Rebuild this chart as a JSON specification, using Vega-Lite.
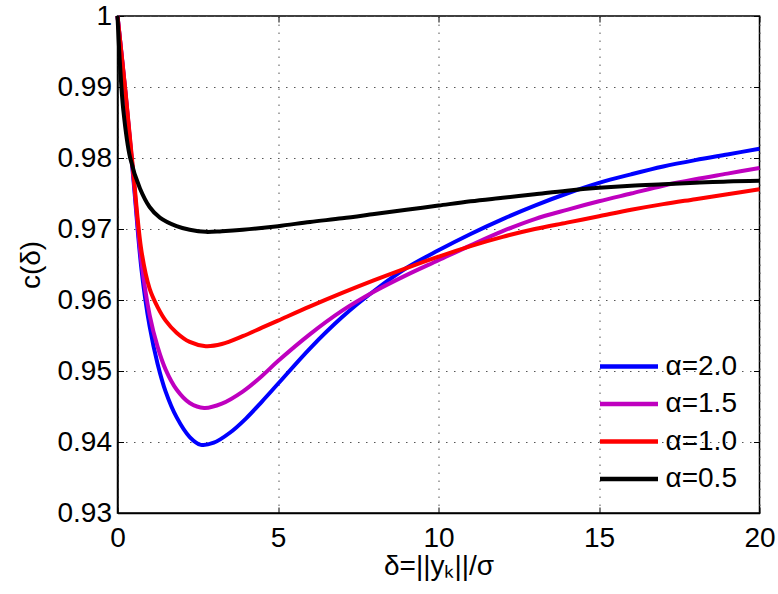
{
  "$schema": "https://vega.github.io/schema/vega-lite/v6.json",
  "width": 642,
  "height": 497,
  "autosize": {"type": "none"},
  "padding": {"left": 117.5, "top": 16, "right": 18.5, "bottom": 81},
  "config": {
    "view": {"stroke": "black", "strokeWidth": 1.5},
    "font": "Liberation Sans",
    "background": "white"
  },
  "data": {
    "values": [
      {"d": 0, "c": 1.0, "a": "α=2.0"},
      {"d": 0.25, "c": 0.989, "a": "α=2.0"},
      {"d": 0.5, "c": 0.9768, "a": "α=2.0"},
      {"d": 0.75, "c": 0.9642, "a": "α=2.0"},
      {"d": 1.0, "c": 0.9563, "a": "α=2.0"},
      {"d": 1.25, "c": 0.9510, "a": "α=2.0"},
      {"d": 1.5, "c": 0.9471, "a": "α=2.0"},
      {"d": 1.84, "c": 0.9435, "a": "α=2.0"},
      {"d": 2.25, "c": 0.9407, "a": "α=2.0"},
      {"d": 2.6, "c": 0.9396, "a": "α=2.0"},
      {"d": 3.0, "c": 0.9399, "a": "α=2.0"},
      {"d": 3.5, "c": 0.9413, "a": "α=2.0"},
      {"d": 4.0, "c": 0.9433, "a": "α=2.0"},
      {"d": 4.5, "c": 0.9457, "a": "α=2.0"},
      {"d": 5, "c": 0.9482, "a": "α=2.0"},
      {"d": 6, "c": 0.9532, "a": "α=2.0"},
      {"d": 7, "c": 0.9576, "a": "α=2.0"},
      {"d": 8, "c": 0.9613, "a": "α=2.0"},
      {"d": 9, "c": 0.9645, "a": "α=2.0"},
      {"d": 10, "c": 0.967, "a": "α=2.0"},
      {"d": 11, "c": 0.9693, "a": "α=2.0"},
      {"d": 12, "c": 0.9714, "a": "α=2.0"},
      {"d": 13, "c": 0.9733, "a": "α=2.0"},
      {"d": 14, "c": 0.975, "a": "α=2.0"},
      {"d": 15, "c": 0.9765, "a": "α=2.0"},
      {"d": 16, "c": 0.9777, "a": "α=2.0"},
      {"d": 17, "c": 0.9788, "a": "α=2.0"},
      {"d": 18, "c": 0.9797, "a": "α=2.0"},
      {"d": 19, "c": 0.9805, "a": "α=2.0"},
      {"d": 20, "c": 0.9813, "a": "α=2.0"},

      {"d": 0, "c": 1.0, "a": "α=1.5"},
      {"d": 0.25, "c": 0.9892, "a": "α=1.5"},
      {"d": 0.5, "c": 0.9772, "a": "α=1.5"},
      {"d": 0.75, "c": 0.9652, "a": "α=1.5"},
      {"d": 1.0, "c": 0.9579, "a": "α=1.5"},
      {"d": 1.25, "c": 0.9534, "a": "α=1.5"},
      {"d": 1.5, "c": 0.9502, "a": "α=1.5"},
      {"d": 1.84, "c": 0.9474, "a": "α=1.5"},
      {"d": 2.25, "c": 0.9455, "a": "α=1.5"},
      {"d": 2.7, "c": 0.9448, "a": "α=1.5"},
      {"d": 3.25, "c": 0.9454, "a": "α=1.5"},
      {"d": 3.9, "c": 0.9471, "a": "α=1.5"},
      {"d": 4.5, "c": 0.9493, "a": "α=1.5"},
      {"d": 5, "c": 0.9514, "a": "α=1.5"},
      {"d": 6, "c": 0.9552, "a": "α=1.5"},
      {"d": 7, "c": 0.9585, "a": "α=1.5"},
      {"d": 8, "c": 0.9612, "a": "α=1.5"},
      {"d": 9, "c": 0.9635, "a": "α=1.5"},
      {"d": 10, "c": 0.9656, "a": "α=1.5"},
      {"d": 11, "c": 0.9677, "a": "α=1.5"},
      {"d": 12, "c": 0.9697, "a": "α=1.5"},
      {"d": 13, "c": 0.9714, "a": "α=1.5"},
      {"d": 14, "c": 0.9727, "a": "α=1.5"},
      {"d": 15, "c": 0.9739, "a": "α=1.5"},
      {"d": 16, "c": 0.975, "a": "α=1.5"},
      {"d": 17, "c": 0.9761, "a": "α=1.5"},
      {"d": 18, "c": 0.977, "a": "α=1.5"},
      {"d": 19, "c": 0.9778, "a": "α=1.5"},
      {"d": 20, "c": 0.9786, "a": "α=1.5"},

      {"d": 0, "c": 1.0, "a": "α=1.0"},
      {"d": 0.25, "c": 0.9893, "a": "α=1.0"},
      {"d": 0.5, "c": 0.9776, "a": "α=1.0"},
      {"d": 0.75, "c": 0.9668, "a": "α=1.0"},
      {"d": 1.0, "c": 0.9616, "a": "α=1.0"},
      {"d": 1.25, "c": 0.9590, "a": "α=1.0"},
      {"d": 1.5, "c": 0.9571, "a": "α=1.0"},
      {"d": 1.84, "c": 0.9554, "a": "α=1.0"},
      {"d": 2.25, "c": 0.9541, "a": "α=1.0"},
      {"d": 2.75, "c": 0.9535, "a": "α=1.0"},
      {"d": 3.25, "c": 0.9538, "a": "α=1.0"},
      {"d": 3.9, "c": 0.9549, "a": "α=1.0"},
      {"d": 4.5, "c": 0.9561, "a": "α=1.0"},
      {"d": 5, "c": 0.9571, "a": "α=1.0"},
      {"d": 6, "c": 0.9591, "a": "α=1.0"},
      {"d": 7, "c": 0.961, "a": "α=1.0"},
      {"d": 8, "c": 0.9628, "a": "α=1.0"},
      {"d": 9, "c": 0.9645, "a": "α=1.0"},
      {"d": 10, "c": 0.9661, "a": "α=1.0"},
      {"d": 11, "c": 0.9676, "a": "α=1.0"},
      {"d": 12, "c": 0.9689, "a": "α=1.0"},
      {"d": 13, "c": 0.97, "a": "α=1.0"},
      {"d": 14, "c": 0.9709, "a": "α=1.0"},
      {"d": 15, "c": 0.9718, "a": "α=1.0"},
      {"d": 16, "c": 0.9727, "a": "α=1.0"},
      {"d": 17, "c": 0.9735, "a": "α=1.0"},
      {"d": 18, "c": 0.9742, "a": "α=1.0"},
      {"d": 19, "c": 0.9749, "a": "α=1.0"},
      {"d": 20, "c": 0.9756, "a": "α=1.0"},

      {"d": 0, "c": 1.0, "a": "α=0.5"},
      {"d": 0.08, "c": 0.993, "a": "α=0.5"},
      {"d": 0.18, "c": 0.9868, "a": "α=0.5"},
      {"d": 0.39, "c": 0.9801, "a": "α=0.5"},
      {"d": 0.7, "c": 0.9757, "a": "α=0.5"},
      {"d": 1.0, "c": 0.9731, "a": "α=0.5"},
      {"d": 1.32, "c": 0.9716, "a": "α=0.5"},
      {"d": 1.84, "c": 0.9704, "a": "α=0.5"},
      {"d": 2.25, "c": 0.9699, "a": "α=0.5"},
      {"d": 2.75, "c": 0.9696, "a": "α=0.5"},
      {"d": 3.25, "c": 0.9697, "a": "α=0.5"},
      {"d": 3.9, "c": 0.9699, "a": "α=0.5"},
      {"d": 5, "c": 0.9704, "a": "α=0.5"},
      {"d": 6, "c": 0.971, "a": "α=0.5"},
      {"d": 7, "c": 0.9715, "a": "α=0.5"},
      {"d": 8, "c": 0.9721, "a": "α=0.5"},
      {"d": 9, "c": 0.9727, "a": "α=0.5"},
      {"d": 10, "c": 0.9733, "a": "α=0.5"},
      {"d": 11, "c": 0.9739, "a": "α=0.5"},
      {"d": 12, "c": 0.9744, "a": "α=0.5"},
      {"d": 13, "c": 0.9749, "a": "α=0.5"},
      {"d": 14, "c": 0.9754, "a": "α=0.5"},
      {"d": 15, "c": 0.9758, "a": "α=0.5"},
      {"d": 16, "c": 0.9761, "a": "α=0.5"},
      {"d": 17, "c": 0.9763, "a": "α=0.5"},
      {"d": 18, "c": 0.9765, "a": "α=0.5"},
      {"d": 19, "c": 0.9767, "a": "α=0.5"},
      {"d": 20, "c": 0.9768, "a": "α=0.5"}
    ]
  },
  "layer": [
    {
      "mark": {"type": "line", "interpolate": "catmull-rom", "strokeWidth": 4},
      "encoding": {
        "x": {
          "field": "d",
          "type": "quantitative",
          "scale": {"domain": [0, 20], "nice": false},
          "axis": {
            "orient": "bottom",
            "values": [0, 5, 10, 15, 20],
            "tickSize": -6,
            "tickColor": "black",
            "domainColor": "black",
            "domainWidth": 1.5,
            "labelFontSize": 28,
            "labelColor": "black",
            "labelPadding": 17,
            "labelFlush": false,
            "grid": true,
            "gridDash": [1.5, 6.5],
            "gridColor": "#555555",
            "gridWidth": 1,
            "title": "δ=||yₖ||/σ",
            "titleFontSize": 28,
            "titleFontWeight": "normal",
            "titleColor": "black",
            "titlePadding": 0
          }
        },
        "y": {
          "field": "c",
          "type": "quantitative",
          "scale": {"domain": [0.93, 1.0], "nice": false, "zero": false},
          "axis": {
            "orient": "left",
            "values": [0.93, 0.94, 0.95, 0.96, 0.97, 0.98, 0.99, 1.0],
            "labelExpr": "datum.value >= 0.9999 ? '1' : format(datum.value, '.2f')",
            "tickSize": -6,
            "tickColor": "black",
            "domainColor": "black",
            "domainWidth": 1.5,
            "labelFontSize": 28,
            "labelColor": "black",
            "labelPadding": 12,
            "labelFlush": false,
            "grid": true,
            "gridDash": [1.5, 6.5],
            "gridColor": "#555555",
            "gridWidth": 1,
            "title": "c(δ)",
            "titleFontSize": 28,
            "titleFontWeight": "normal",
            "titleColor": "black",
            "titlePadding": 12
          }
        },
        "color": {
          "field": "a",
          "type": "nominal",
          "scale": {
            "domain": ["α=2.0", "α=1.5", "α=1.0", "α=0.5"],
            "range": ["#0000ff", "#bf00bf", "#ff0000", "#000000"]
          },
          "legend": {
            "orient": "none",
            "legendX": 480,
            "legendY": 334,
            "title": null,
            "symbolType": "stroke",
            "symbolSize": 3364,
            "symbolStrokeWidth": 4.5,
            "labelFontSize": 28,
            "labelColor": "black",
            "labelOffset": 5,
            "clipHeight": 33,
            "rowPadding": 4.5,
            "padding": 0
          }
        }
      }
    },
    {
      "mark": {"type": "line", "opacity": 0},
      "encoding": {
        "x": {
          "field": "d",
          "type": "quantitative",
          "scale": {"domain": [0, 20], "nice": false},
          "axis": {
            "orient": "top",
            "values": [0, 5, 10, 15, 20],
            "tickSize": -6,
            "tickColor": "black",
            "domain": false,
            "labels": false,
            "grid": false,
            "title": null
          }
        },
        "y": {
          "field": "c",
          "type": "quantitative",
          "scale": {"domain": [0.93, 1.0], "nice": false, "zero": false},
          "axis": {
            "orient": "right",
            "values": [0.93, 0.94, 0.95, 0.96, 0.97, 0.98, 0.99, 1.0],
            "tickSize": -6,
            "tickColor": "black",
            "domain": false,
            "labels": false,
            "grid": false,
            "title": null
          }
        }
      }
    }
  ],
  "resolve": {"axis": {"x": "independent", "y": "independent"}}
}
